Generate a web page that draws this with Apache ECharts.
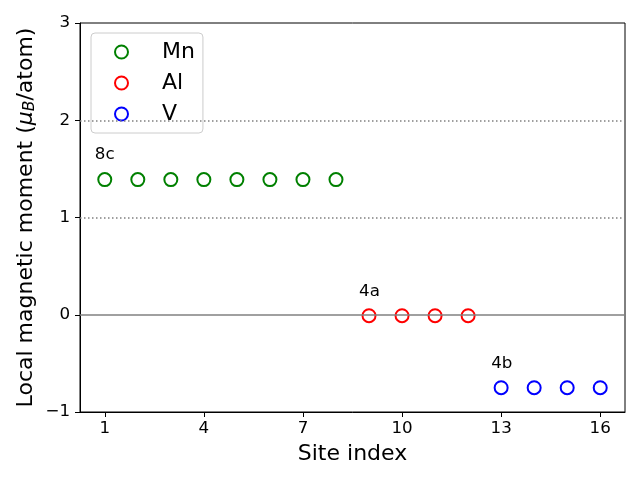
<!DOCTYPE html>
<html>
<head>
<meta charset="utf-8">
<script src="https://cdn.jsdelivr.net/npm/echarts@6/dist/echarts.min.js"></script>
<style>html,body{margin:0;padding:0;background:#fff}#c{width:640px;height:480px}</style>
</head>
<body>
<div id="c"></div>
<script>
const mnSites = [1, 2, 3, 4, 5, 6, 7, 8];
const mnValues = [1.39, 1.39, 1.39, 1.39, 1.39, 1.39, 1.39, 1.39];
const alSites = [9, 10, 11, 12];
const alValues = [-0.01, -0.01, -0.01, -0.01];
const vSites = [13, 14, 15, 16];
const vValues = [-0.75, -0.75, -0.75, -0.75];
const xTicks = [1, 4, 7, 10, 13, 16];
const groupLabels = ['8c', '4a', '4b'];
const refLines = [0, 1, 2];

const FONT = 'DejaVu Sans';
const zip = (xs, ys) => xs.map((x, i) => [x, ys[i]]);
const groups = [[mnSites, mnValues], [alSites, alValues], [vSites, vValues]];
const annData = groups.map((g, i) => [g[0][0] - 0.3, g[1][0] + 0.2, groupLabels[i]]);

const chart = echarts.init(document.getElementById('c'), null, {renderer: 'canvas'});
const mk = (name, data, color) => ({
  name, type: 'scatter', data, symbol: 'emptyCircle', symbolSize: 13,
  itemStyle: {color: color, borderColor: color, borderWidth: 1.4, opacity: 1},
  z: 3
});
const mnSeries = mk('Mn', zip(mnSites, mnValues), '#008000');
mnSeries.markLine = {
  silent: true, symbol: 'none', label: {show: false},
  animation: false,
  data: refLines.map(v => ({yAxis: v, lineStyle: v === 0 ? {type: 'solid', color: '#808080', width: 1.5, opacity: 1} : {type: [1.5, 2.5], color: '#808080', width: 1.5, opacity: 1}}))
};
chart.setOption({
  animation: false,
  textStyle: {fontFamily: FONT},
  grid: {left: 80, right: 15, top: 23, bottom: 68, show: true, borderColor: '#000', borderWidth: 1, backgroundColor: 'transparent'},
  legend: {
    data: ['Mn', 'Al', 'V'], orient: 'vertical', left: 91, top: 33,
    padding: [8, 8, 8, 23], itemGap: 9, itemWidth: 13, itemHeight: 13,
    borderColor: '#cccccc', borderWidth: 1, borderRadius: 4, backgroundColor: 'rgba(255,255,255,0.8)',
    formatter: name => '{s|}{t|' + name + '}',
    textStyle: {fontFamily: FONT, fontSize: 22, lineHeight: 22, color: '#000',
      rich: {
        s: {width: 29, fontSize: 22, lineHeight: 22},
        t: {fontFamily: FONT, fontSize: 22, lineHeight: 22, color: '#000'}
      }}
  },
  xAxis: {
    type: 'value', min: 0.25, max: 16.75,
    name: 'Site index', nameLocation: 'middle', nameGap: 31,
    nameTextStyle: {fontFamily: FONT, fontSize: 22, color: '#000'},
    axisLine: {show: true, onZero: false, lineStyle: {color: '#000', width: 1}},
    axisTick: {show: true, inside: false, length: 5, lineStyle: {color: '#000'}, customValues: xTicks},
    axisLabel: {fontFamily: FONT, fontSize: 16.7, color: '#000', margin: 8, customValues: xTicks},
    splitLine: {show: false}
  },
  yAxis: {
    type: 'value', min: -1, max: 3, interval: 1,
    name: '{n|Local magnetic moment (}{it|μ}{sub|B}{n|/atom)}', nameLocation: 'middle', nameGap: 42,
    nameMoveOverlap: false,
    nameTextStyle: {fontFamily: FONT, fontSize: 22, color: '#000',
      rich: {
        n: {fontFamily: FONT, fontSize: 22, color: '#000'},
        it: {fontFamily: FONT, fontSize: 22, fontStyle: 'italic', color: '#000'},
        sub: {fontFamily: FONT, fontSize: 15.5, fontStyle: 'italic', color: '#000', verticalAlign: 'bottom', padding: [8, 0, 0, 0]}
      }},
    axisLine: {show: true, lineStyle: {color: '#000', width: 1}},
    axisTick: {show: true, inside: false, length: 5, lineStyle: {color: '#000'}},
    axisLabel: {fontFamily: FONT, fontSize: 16.7, color: '#000', margin: 10, formatter: v => String(v).replace('-', '\u2212')},
    splitLine: {show: false}
  },
  series: [
    mnSeries,
    mk('Al', zip(alSites, alValues), '#ff0000'),
    mk('V', zip(vSites, vValues), '#0000ff'),
    {
      type: 'scatter', data: annData, symbolSize: 0.01, silent: true,
      itemStyle: {color: '#000', opacity: 1},
      label: {show: true, position: 'right', distance: 0, align: 'left', verticalAlign: 'middle', offset: [0, -5],
        formatter: p => p.data[2], fontFamily: FONT, fontSize: 16.7, color: '#000', opacity: 1},
      z: 4
    }
  ]
});
</script>
</body>
</html>
